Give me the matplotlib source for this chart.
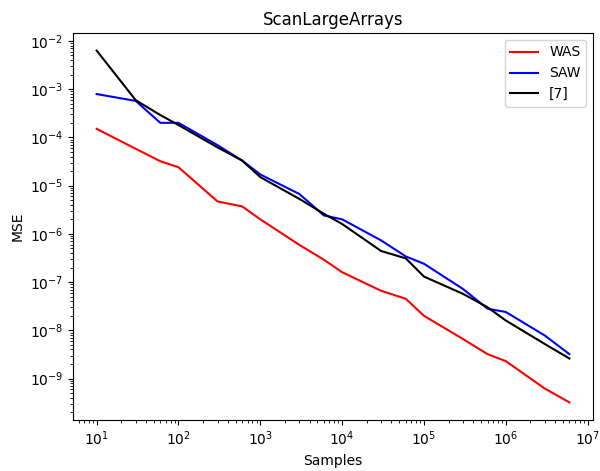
import matplotlib
matplotlib.use("Agg")
import matplotlib.pyplot as plt

# sample counts
samples = [10, 30, 60, 100, 300, 600, 1000, 3000, 6000, 1e4, 3e4, 6e4,
           1e5, 3e5, 6e5, 1e6, 3e6, 6e6]

# MSE per method
mse_was = [1.5e-4, 5.8e-5, 3.2e-5, 2.4e-5, 4.7e-6, 3.7e-6, 2.0e-6, 5.9e-7,
           2.9e-7, 1.6e-7, 6.6e-8, 4.5e-8, 2.0e-8, 6.6e-9, 3.2e-9, 2.3e-9,
           6.2e-10, 3.2e-10]
mse_saw = [7.9e-4, 5.7e-4, 2.0e-4, 2.0e-4, 6.9e-5, 3.3e-5, 1.7e-5, 6.7e-6,
           2.4e-6, 2.0e-6, 7.3e-7, 3.4e-7, 2.4e-7, 7.2e-8, 2.8e-8, 2.4e-8,
           7.8e-9, 3.2e-9]
mse_ref7 = [6.3e-3, 5.9e-4, 2.9e-4, 1.8e-4, 6.2e-5, 3.3e-5, 1.5e-5, 5.3e-6,
            2.6e-6, 1.6e-6, 4.4e-7, 3.1e-7, 1.3e-7, 5.7e-8, 3.0e-8, 1.6e-8,
            5.2e-9, 2.6e-9]

fig = plt.figure(figsize=(6.0, 4.71), dpi=100)
ax = fig.add_axes([0.1217, 0.1083, 0.8667, 0.8217])

ax.plot(samples, mse_was, color="red", label="WAS")
ax.plot(samples, mse_saw, color="blue", label="SAW")
ax.plot(samples, mse_ref7, color="black", label="[7]")

ax.set_xscale("log")
ax.set_yscale("log")
ax.set_title("ScanLargeArrays")
ax.set_xlabel("Samples")
ax.set_ylabel("MSE")
ax.legend(loc="upper right")

fig.savefig("out.png", dpi=100)
